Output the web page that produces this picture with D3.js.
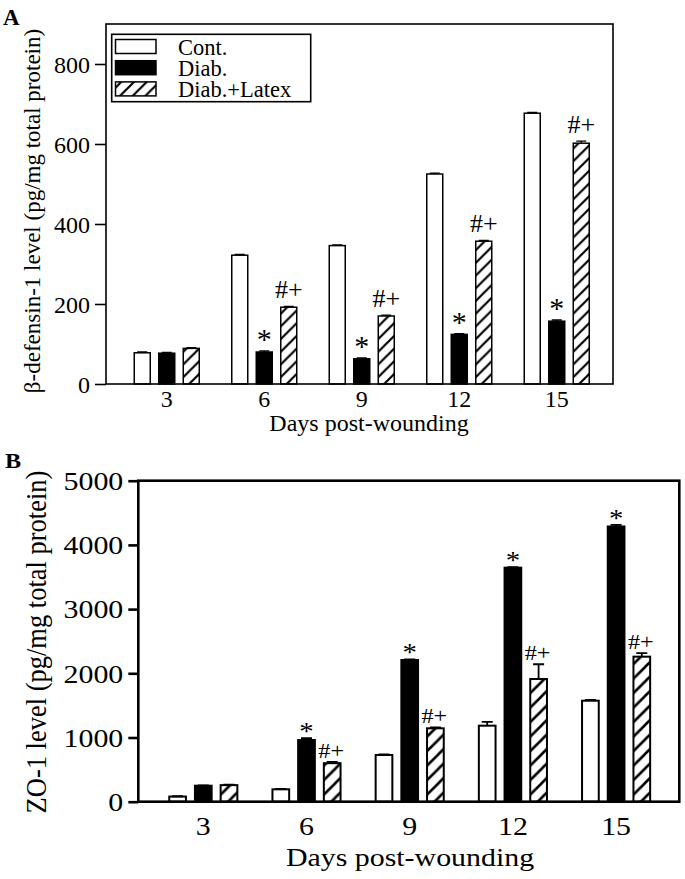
<!DOCTYPE html>
<html><head><meta charset="utf-8">
<script src="https://cdn.jsdelivr.net/npm/d3@7"></script>
<style>
html,body{margin:0;padding:0;background:#fff;}
text{font-family:"Liberation Serif","Times New Roman",serif;fill:#000;}
</style></head>
<body><svg id="chart" width="685" height="879"></svg>
<script>
// ---------- data ----------
const days = ["3","6","9","12","15"];
const seriesNames = ["Cont.","Diab.","Diab.+Latex"];
const seriesKeys = ["cont","diab","latex"];

// Panel A: beta-defensin-1 (pg/mg total protein)
const defensinCont  = [78, 322, 346, 525, 677];
const defensinDiab  = [77, 80, 63, 124, 157];
const defensinLatex = [89, 192, 170, 357, 602];
const defensinContErr  = [2, 2, 2, 2, 2];
const defensinDiabErr  = [2, 3, 2, 2, 3];
const defensinLatexErr = [2, 2, 2, 2, 5];
const defensinTicks = [0, 200, 400, 600, 800];

// Panel B: ZO-1 (pg/mg total protein)
const zo1Cont  = [80, 193, 727, 1184, 1573];
const zo1Diab  = [249, 961, 2207, 3645, 4287];
const zo1Latex = [258, 600, 1143, 1911, 2259];
const zo1ContErr  = [5, 8, 10, 60, 12];
const zo1DiabErr  = [5, 28, 10, 10, 25];
const zo1LatexErr = [8, 20, 15, 230, 55];
const zo1Ticks = [0, 1000, 2000, 3000, 4000, 5000];

// significance marks
const starDays = ["6","9","12","15"];   // "*" above Diab.
const hashDays = ["6","9","12","15"];   // "#+" above Diab.+Latex

const svg = d3.select("#chart");
const defs = svg.append("defs");

function hatch(id, s, w){
  const p = defs.append("pattern").attr("id", id).attr("patternUnits","userSpaceOnUse")
    .attr("width", s).attr("height", s);
  p.append("rect").attr("width", s).attr("height", s).attr("fill","#fff");
  p.append("path").attr("d", `M0,${s} L${s},0 M${-s/2},${s/2} L${s/2},${-s/2} M${s/2},${s*1.5} L${s*1.5},${s/2}`)
    .attr("stroke","#000").attr("stroke-width", w).attr("stroke-linecap","square");
}
hatch("hatchA", 12.7, 2.2);
hatch("hatchB", 14.5, 2.6);

function rows(c, d, l, ce, de, le){
  return days.map((day,i)=>({day, vals:[
    {key:"cont", v:c[i], e:ce[i]},
    {key:"diab", v:d[i], e:de[i]},
    {key:"latex", v:l[i], e:le[i]}]}));
}

function panel(cfg){
  const g = svg.append("g");
  const y = d3.scaleLinear().domain(cfg.yDomain).range([cfg.bottom, cfg.top]);
  const x = d3.scaleBand().domain(days).range(cfg.xRange).paddingInner(0).paddingOuter(0);
  const xi = d3.scaleBand().domain(seriesKeys).range(cfg.innerRange).paddingInner(cfg.innerPad).paddingOuter(0);
  const cx = d => x(d) + x.bandwidth()/2;
  const sx = cfg.stretch;
  const fill = {cont:"#fff", diab:"#000", latex:`url(#${cfg.hatch})`};
  const data = rows(...cfg.data);

  // bars
  const grp = g.selectAll("g.day").data(data).join("g").attr("transform", d=>`translate(${cx(d.day)},0)`);
  grp.selectAll("rect").data(d=>d.vals).join("rect")
    .attr("x", d=>xi(d.key)).attr("width", xi.bandwidth())
    .attr("y", d=>y(d.v)).attr("height", d=>y(0)-y(d.v))
    .attr("fill", d=>fill[d.key]).attr("stroke","#000").attr("stroke-width", cfg.barStroke);
  // error bars
  grp.selectAll("path.err").data(d=>d.vals).join("path").attr("class","err")
    .attr("d", d=>{const m = xi(d.key)+xi.bandwidth()/2;
      return `M${m},${y(d.v)} V${y(d.v+d.e)} M${m-cfg.cap},${y(d.v+d.e)} H${m+cfg.cap}`;})
    .attr("stroke","#000").attr("stroke-width", cfg.errStroke).attr("fill","none");

  // significance marks
  data.forEach(d=>{
    const di = d.vals[1], li = d.vals[2];
    if (starDays.includes(d.day)){
      g.append("text").attr("transform", `translate(${cx(d.day)+xi("diab")+xi.bandwidth()/2},${y(di.v+di.e)+cfg.starDy}) scale(${sx},1)`)
        .attr("text-anchor","middle").style("font-size", cfg.starSize+"px").text("*");
    }
    if (hashDays.includes(d.day)){
      g.append("text").attr("transform", `translate(${cx(d.day)+xi("latex")+xi.bandwidth()/2+cfg.hashDx},${y(li.v+li.e)+cfg.hashDy}) scale(${sx},1)`)
        .attr("text-anchor","middle").style("font-size", cfg.hashSize+"px").text("#+");
    }
  });

  // frame
  g.append("rect").attr("x", cfg.xFrame[0]).attr("y", cfg.top)
    .attr("width", cfg.xFrame[1]-cfg.xFrame[0]).attr("height", cfg.bottom-cfg.top)
    .attr("fill","none").attr("stroke","#000").attr("stroke-width", cfg.frameStroke);

  // y axis
  const ya = g.append("g").attr("transform", `translate(${cfg.xFrame[0]},0)`)
    .call(d3.axisLeft(y).tickValues(cfg.ticks).tickSize(cfg.tickLen).tickPadding(5).tickFormat(d3.format("d")));
  ya.select(".domain").remove();
  ya.selectAll(".tick line").attr("stroke-width", cfg.frameStroke);
  ya.selectAll(".tick text").style("font-size", cfg.tickFont+"px").attr("font-family", null)
    .attr("x", -(cfg.tickLen+5)/sx).attr("dy","0.34em").attr("transform", `scale(${sx},1)`);

  // x axis
  const xa = g.append("g").attr("transform", `translate(0,${cfg.bottom})`)
    .call(d3.axisBottom(x).tickSize(0).tickPadding(cfg.xTickPad));
  xa.select(".domain").remove();
  xa.selectAll(".tick text").style("font-size", cfg.tickFont+"px").attr("font-family", null)
    .attr("transform", `scale(${sx},1)`).attr("x", 0);
  xa.selectAll(".tick").attr("transform", d=>`translate(${cx(d)},0)`);

  // axis titles
  g.append("text").attr("transform", `translate(${cfg.xTitle[0]},${cfg.xTitle[1]}) scale(${sx},1)`)
    .attr("text-anchor","middle").style("font-size", cfg.titleFont+"px").text("Days post-wounding");
  g.append("text").attr("transform", `translate(${cfg.yTitle[0]},${cfg.yTitle[1]}) scale(${sx},1) rotate(-90)`)
    .attr("text-anchor","middle").style("font-size", cfg.yTitleFont+"px").text(cfg.yLabel);
  // panel letter
  g.append("text").attr("transform", `translate(${cfg.letterPos[0]},${cfg.letterPos[1]}) scale(${sx},1)`)
    .style("font-size", cfg.letterFont+"px").style("font-weight","bold").text(cfg.letter);
  return {g, y, x, xi};
}

// Panel A
panel({
  data:[defensinCont, defensinDiab, defensinLatex, defensinContErr, defensinDiabErr, defensinLatexErr],
  yDomain:[0,900], top:24, bottom:384, xFrame:[106,613], xRange:[118,605.5],
  innerRange:[-32.5,32.5], innerPad:0.347, hatch:"hatchA", stretch:1,
  barStroke:1.5, errStroke:1.3, cap:5, frameStroke:1.6, ticks:defensinTicks, tickLen:11,
  tickFont:24, xTickPad:6, titleFont:24, xTitle:[369,431],
  yTitle:[40,211], yTitleFont:23, yLabel:"β-defensin-1 level (pg/mg total protein)",
  starSize:30, starDy:-2, hashSize:26, hashDy:-8, hashDx:0,
  letter:"A", letterPos:[3,25], letterFont:23
});

// Panel B
panel({
  data:[zo1Cont, zo1Diab, zo1Latex, zo1ContErr, zo1DiabErr, zo1LatexErr],
  yDomain:[0,5000], top:480.7, bottom:801.7, xFrame:[138.3,679.3], xRange:[151.7,667.7],
  innerRange:[-34.05,34.05], innerPad:0.35, hatch:"hatchB", stretch:1.15,
  barStroke:2, errStroke:1.8, cap:5.5, frameStroke:2.6, ticks:zo1Ticks, tickLen:10,
  tickFont:26, xTickPad:15, titleFont:26, xTitle:[410,866],
  yTitle:[46,642], yTitleFont:26.5, yLabel:"ZO-1 level (pg/mg total protein)",
  starSize:25, starDy:2, hashSize:21, hashDy:-4, hashDx:-1,
  letter:"B", letterPos:[5,468], letterFont:21
});

// Legend (panel A)
const legend = svg.append("g");
legend.append("rect").attr("x",111.7).attr("y",34.3).attr("width",199).attr("height",67.4)
  .attr("fill","#fff").attr("stroke","#000").attr("stroke-width",1.6);
const legFill = ["#fff","#000","url(#hatchA)"];
seriesNames.forEach((n,i)=>{
  legend.append("rect").attr("x",115.5).attr("y",39.5+i*21.2).attr("width",40.5).attr("height",14)
    .attr("fill",legFill[i]).attr("stroke","#000").attr("stroke-width",1.5);
  legend.append("text").attr("x",178).attr("y",55+i*21).style("font-size","22.5px").text(n);
});
</script></body></html>
